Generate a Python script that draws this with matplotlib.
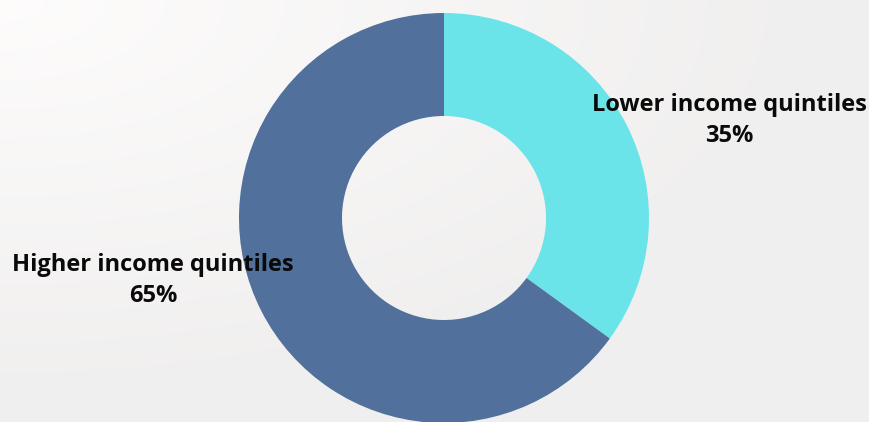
import numpy as np
import matplotlib.pyplot as plt

labels = ['Lower income quintiles', 'Higher income quintiles']
shares = [35, 65]
colors = ['#6ae4e9', '#51709b']

W, H = 869, 422
fig = plt.figure(figsize=(W / 100, H / 100), dpi=100)

# soft light background, a bit whiter in the top-left corner
bg = fig.add_axes([0, 0, 1, 1])
yy, xx = np.mgrid[0:H, 0:W]
d = np.sqrt((xx / W) ** 2 + (yy / H) ** 2) / np.sqrt(2)
shade = 0.995 - 0.05 * np.clip(d * 1.6, 0, 1)
img = np.dstack([shade, shade * 0.995, shade * 0.993])
bg.imshow(img, extent=[0, W, 0, H], origin='upper', aspect='auto')
bg.axis('off')

ax = fig.add_axes([0, 0, 1, 1])
ax.set_xlim(0, W)
ax.set_ylim(0, H)
ax.set_aspect('equal')
ax.axis('off')

ax.pie(shares, colors=colors, startangle=90, counterclock=False,
       center=(444, H - 218), radius=205,
       wedgeprops=dict(width=103, linewidth=0))
ax.set_xlim(0, W)
ax.set_ylim(0, H)

font = dict(family='Open Sans', fontweight='bold', fontsize=17, color='#0a0a0a',
            ha='center', va='center')
ax.text(729, H - 105, labels[0], **font)
ax.text(729, H - 136, f'{shares[0]}%', **font)
ax.text(153, H - 265, labels[1], **font)
ax.text(153, H - 296, f'{shares[1]}%', **font)

fig.savefig('out.png', dpi=100)
